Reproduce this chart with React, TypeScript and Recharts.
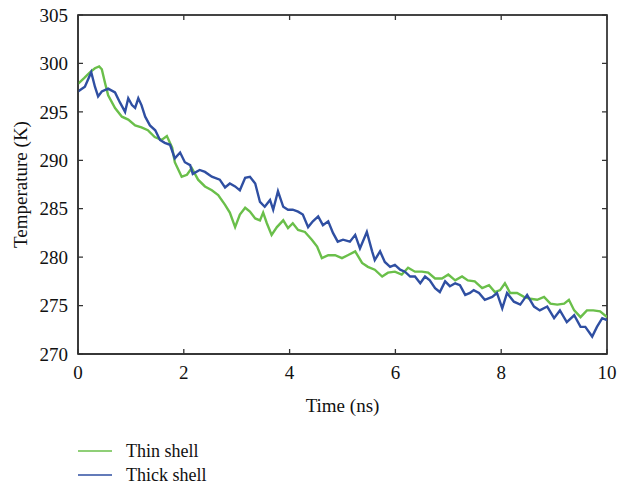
import * as Recharts from 'recharts'
import { LineChart, Line, XAxis, YAxis, Legend, Label, ReferenceArea } from 'recharts'

// Thin shell (green) trace
const thinTime = [
  0, 0.12, 0.23, 0.32, 0.4, 0.45, 0.51, 0.57, 0.7, 0.83,
  0.95, 1.08, 1.2, 1.32, 1.45, 1.58, 1.68, 1.78, 1.83, 1.96,
  2.06, 2.15, 2.27, 2.4, 2.53, 2.65, 2.78, 2.87, 2.97, 3.06,
  3.16, 3.25, 3.35, 3.44, 3.5, 3.57, 3.66, 3.76, 3.88, 3.97,
  4.06, 4.16, 4.29, 4.42, 4.52, 4.61, 4.73, 4.86, 4.99, 5.1,
  5.24, 5.37, 5.48, 5.61, 5.75, 5.86, 5.99, 6.12, 6.24, 6.37,
  6.5, 6.62, 6.75, 6.88, 7.0, 7.13, 7.26, 7.37, 7.5, 7.64,
  7.77, 7.88, 7.98, 8.07, 8.17, 8.3, 8.43, 8.55, 8.68, 8.81,
  8.93, 9.06, 9.19, 9.28, 9.38, 9.5, 9.62, 9.74, 9.87, 10,
]
const thinTemp = [
  297.9, 298.5, 299.1, 299.5, 299.7, 299.4, 298.0, 296.7, 295.4, 294.5,
  294.2, 293.6, 293.4, 293.1, 292.4, 292.1, 292.5, 291.3, 289.8, 288.3,
  288.5, 289.2, 288.0, 287.3, 286.9, 286.4, 285.4, 284.6, 283.1, 284.4,
  285.1, 284.7, 284.0, 283.8, 284.6, 283.5, 282.3, 283.1, 283.8, 283.0,
  283.5, 282.8, 282.6, 281.8, 281.1, 279.9, 280.2, 280.2, 279.9, 280.2,
  280.6, 279.4, 279.0, 278.7, 278.0, 278.4, 278.5, 278.2, 278.9, 278.5,
  278.5, 278.4, 277.8, 277.8, 278.2, 277.6, 278.0, 277.6, 277.5, 276.8,
  277.1, 276.4, 276.6, 277.3, 276.3, 276.3, 275.9, 275.7, 275.6, 275.9,
  275.2, 275.1, 275.2, 275.6, 274.5, 273.8, 274.5, 274.5, 274.4, 273.8,
]

// Thick shell (blue) trace
const thickTime = [
  0, 0.13, 0.25, 0.32, 0.38, 0.45, 0.57, 0.7, 0.79, 0.89,
  0.95, 1.02, 1.08, 1.14, 1.2, 1.27, 1.36, 1.46, 1.55, 1.64,
  1.74, 1.83, 1.93, 2.02, 2.12, 2.17, 2.3, 2.4, 2.53, 2.68,
  2.78, 2.87, 2.97, 3.06, 3.16, 3.25, 3.35, 3.44, 3.53, 3.63,
  3.69, 3.78, 3.88, 3.97, 4.06, 4.16, 4.25, 4.35, 4.44, 4.54,
  4.63, 4.73, 4.82, 4.91, 5.01, 5.14, 5.24, 5.33, 5.46, 5.56,
  5.61, 5.71, 5.8, 5.9, 5.99, 6.09, 6.18, 6.28, 6.37, 6.47,
  6.56, 6.65, 6.75, 6.84, 6.94, 7.03, 7.13, 7.22, 7.32, 7.41,
  7.48, 7.58, 7.69, 7.83, 7.92, 8.02, 8.11, 8.24, 8.36, 8.49,
  8.62, 8.73, 8.87, 9.0, 9.11, 9.24, 9.38, 9.5, 9.59, 9.72,
  9.81, 9.91, 10,
]
const thickTemp = [
  297.1, 297.6, 299.1, 297.6, 296.6, 297.1, 297.4, 297.0, 296.0, 295.0,
  296.4, 295.7, 295.4, 296.4, 295.7, 294.5, 293.6, 293.1, 292.1, 291.8,
  291.6, 290.2, 290.8, 289.8, 289.5, 288.6, 289.0, 288.8, 288.3, 288.0,
  287.2, 287.6, 287.3, 286.9, 288.2, 288.3, 287.6, 285.7, 285.2, 285.9,
  284.9, 286.8, 285.2, 284.9, 284.9, 284.7, 284.4, 283.1, 283.7, 284.2,
  283.3, 283.7, 282.5, 281.6, 281.8, 281.6, 282.3, 280.9, 282.6, 280.6,
  279.7, 280.6, 279.5, 279.0, 279.2, 278.7, 278.5, 278.0, 278.0, 277.3,
  278.0, 277.6, 276.8, 276.4, 277.5, 277.0, 277.3, 277.1, 276.1, 276.3,
  276.6, 276.3, 275.6, 275.9, 276.3, 274.7, 276.3, 275.4, 275.1, 276.1,
  274.9, 274.5, 274.9, 273.7, 274.5, 273.3, 274.0, 272.8, 272.8, 271.8,
  272.8, 273.7, 273.5,
]

const seriesNames = ['Thin shell', 'Thick shell']
const xDomain = [0, 10]
const yDomain = [270, 305]
const xTicks = [0, 2, 4, 6, 8, 10]
const yTicks = [270, 275, 280, 285, 290, 295, 300, 305]

const thinData = thinTime.map((t, i) => ({ t, temp: thinTemp[i] }))
const thickData = thickTime.map((t, i) => ({ t, temp: thickTemp[i] }))

const FONT = '"Liberation Serif", "DejaVu Serif", serif'
const AXIS = '#333'
const GREEN = '#6abf4a'
const BLUE = '#2f4fa2'
const GAP = 12
const TICK = 5
const FS = 19

const W = 620
const H = 486
const MARGIN = { top: 15, right: 13, bottom: 102, left: 18 }
const Y_AXIS_W = 60
const X_AXIS_H = 30

// frame with inward ticks on all four sides, placed from the plot area
function PlotFrame() {
  const usePlotArea = (Recharts as any).usePlotArea
  const area = usePlotArea ? usePlotArea() : null
  if (!area) return null
  const { x, y, width, height } = area
  const sx = (v: number) => x + ((v - xDomain[0]) / (xDomain[1] - xDomain[0])) * width
  const sy = (v: number) => y + height - ((v - yDomain[0]) / (yDomain[1] - yDomain[0])) * height
  let d = ''
  xTicks.forEach((v) => {
    d += `M${sx(v)},${y + height}V${y + height - TICK}M${sx(v)},${y}V${y + TICK}`
  })
  yTicks.forEach((v) => {
    d += `M${x},${sy(v)}H${x + TICK}M${x + width},${sy(v)}H${x + width - TICK}`
  })
  return (
    <g>
      <rect x={x} y={y} width={width} height={height} fill="none" stroke={AXIS} strokeWidth={1.3} />
      <path d={d} stroke={AXIS} strokeWidth={1.3} fill="none" />
    </g>
  )
}

function BottomTick({ x, y, payload }: any) {
  return (
    <text x={x} y={y} dy="0.71em" textAnchor="middle" fontSize={FS} fontFamily={FONT} fill="#111">
      {payload.value}
    </text>
  )
}

function LeftTick({ x, y, payload }: any) {
  return (
    <text x={x} y={y} dy="0.35em" textAnchor="end" fontSize={FS} fontFamily={FONT} fill="#111">
      {payload.value}
    </text>
  )
}

function renderLegend(props: any) {
  const items = [...(props.payload || [])].sort(
    (a: any, b: any) => seriesNames.indexOf(a.value) - seriesNames.indexOf(b.value)
  )
  return (
    <div style={{ fontFamily: FONT, fontSize: 18, color: '#111', lineHeight: '20px' }}>
      {items.map((it: any) => (
        <div key={it.value} style={{ display: 'flex', alignItems: 'center', height: 24 }}>
          <svg width={34} height={4}>
            <line x1={0} x2={34} y1={2} y2={2} stroke={it.color} strokeWidth={1.5} />
          </svg>
          <span style={{ marginLeft: 14 }}>{it.value}</span>
        </div>
      ))}
    </div>
  )
}

export default function App() {
  return (
    <div style={{ position: 'absolute', left: 0, top: 0, background: '#fff' }}>
      <LineChart width={W} height={H} margin={MARGIN}>
        <XAxis
          dataKey="t"
          type="number"
          domain={xDomain}
          ticks={xTicks}
          allowDataOverflow
          height={X_AXIS_H}
          tickSize={0}
          tickMargin={GAP}
          tick={<BottomTick />}
          axisLine={{ stroke: AXIS, strokeWidth: 1.3 }}
        >
          <Label
            content={() => (
              <text x={342.5} y={405} textAnchor="middle" dominantBaseline="central" fontSize={FS} fontFamily={FONT} fill="#111">
                Time (ns)
              </text>
            )}
          />
        </XAxis>
        <YAxis
          type="number"
          domain={yDomain}
          ticks={yTicks}
          allowDataOverflow
          width={Y_AXIS_W}
          tickSize={0}
          tickMargin={10}
          tick={<LeftTick />}
          axisLine={{ stroke: AXIS, strokeWidth: 1.3 }}
        >
          <Label
            content={() => (
              <text
                x={20}
                y={184.5}
                transform="rotate(-90 20 184.5)"
                textAnchor="middle"
                dominantBaseline="central"
                fontSize={FS}
                fontFamily={FONT}
                fill="#111"
              >
                Temperature (K)
              </text>
            )}
          />
        </YAxis>
        <ReferenceArea
          x1={xDomain[0]}
          x2={xDomain[1]}
          y1={yDomain[0]}
          y2={yDomain[1]}
          fill="#fff"
          fillOpacity={0}
          stroke={AXIS}
          strokeWidth={1.3}
        />
        <Legend
          layout="horizontal"
          verticalAlign="middle"
          align="center"
          content={renderLegend}
          wrapperStyle={{ left: 78, top: 439, width: 200 }}
        />
        <Line
          data={thinData}
          dataKey="temp"
          name={seriesNames[0]}
          type="linear"
          stroke={GREEN}
          strokeWidth={2.4}
          dot={false}
          isAnimationActive={false}
        />
        <Line
          data={thickData}
          dataKey="temp"
          name={seriesNames[1]}
          type="linear"
          stroke={BLUE}
          strokeWidth={2.4}
          dot={false}
          isAnimationActive={false}
        />
        <PlotFrame />
      </LineChart>
    </div>
  )
}
